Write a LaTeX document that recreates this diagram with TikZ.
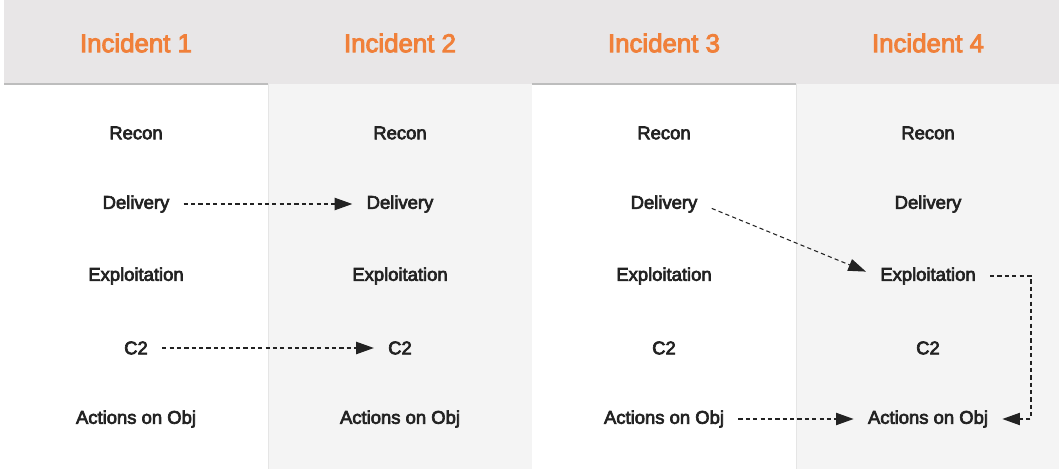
\documentclass[tikz,border=0pt]{standalone}
\usepackage{fontspec}
\setmainfont{Liberation Sans}
\newfontfamily\medfont{Liberation Sans}[FakeBold=3.5]
\usepackage{xcolor}
\usetikzlibrary{arrows.meta, positioning}

\definecolor{headgray}{HTML}{E8E6E7}
\definecolor{colshade}{HTML}{F4F4F4}
\definecolor{rulegray}{HTML}{BDBDBD}
\definecolor{incorange}{HTML}{F0803A}
\definecolor{inkdark}{HTML}{222222}

\begin{document}
\begin{tikzpicture}[
  x=0.02cm, y=-0.02cm,
  >={Triangle[length=10pt, width=7pt]},
  every node/.style={font=\medfont\fontsize{10.5}{12}\selectfont, text=inkdark},
  headlabel/.style={font=\medfont\fontsize{14.7}{17}\selectfont, text=incorange},
  stage/.style={inner xsep=8pt, inner ysep=2pt},
  flow/.style={->, draw=inkdark, line width=0.6pt, dash pattern=on 2.4pt off 1.8pt}
]
\useasboundingbox (0,0) rectangle (1064,469);
% Shaded columns (incident 2 and 4)
\fill[colshade] (268,84) rectangle (532,469);
\fill[colshade] (796,84) rectangle (1059,469);
\draw[black!10, line width=0.5pt] (268,84) -- (268,469);
\draw[black!10, line width=0.5pt] (796,84) -- (796,469);
% Header band
\fill[headgray] (4,0) rectangle (1059,84);
\draw[rulegray, line width=0.6pt] (4,84) -- (268,84);
\draw[rulegray, line width=0.6pt] (532,84) -- (796,84);
% Incident titles
\foreach \i/\x in {1/136, 2/400, 3/664, 4/928}
  \node[headlabel] (head\i) at (\x,43) {Incident \i};
% Kill chain stages, one column per incident
\foreach \i/\x in {1/136, 2/400, 3/664, 4/928} {
  \node[stage] (recon\i) at (\x,133) {Recon};
  \node[stage] (deliv\i) at (\x,204) {Delivery};
  \node[stage] (expl\i)  at (\x,276) {Exploitation};
  \node[stage] (ctwo\i)  at (\x,348) {C2};
  \node[stage] (act\i)   at (\x,419) {Actions on Obj};
}

% Links between incidents
\draw[flow] (deliv1) -- (deliv2);
\draw[flow] (ctwo1) -- (ctwo2);
\draw[flow] ([yshift=-2.5pt]deliv3.east) -- ([yshift=2.5pt]expl4.west);
\draw[flow] (act3) -- (act4);
\coordinate (loop) at (1031,419);
\draw[flow] (expl4.east) -| (loop) -- (act4.east);

\end{tikzpicture}
\end{document}
